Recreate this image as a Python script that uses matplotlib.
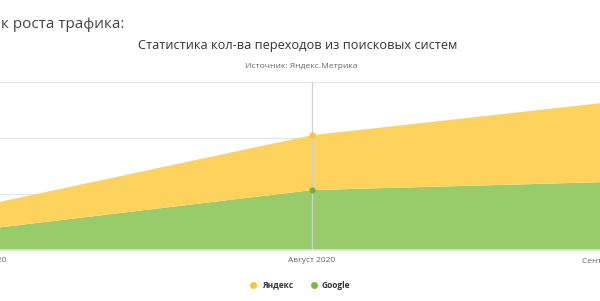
import matplotlib
matplotlib.use("Agg")
import matplotlib.pyplot as plt
import numpy as np

plt.rcParams['font.family'] = ['Open Sans', 'DejaVu Sans']

categories = ["Июль 2020", "Август 2020", "Сентябрь 2020"]
google = [37, 107, 123]
yandex = [43, 98, 147]
series_names = ["Яндекс", "Google"]

yandex_color = "#FDD35E"
google_color = "#98CB69"
yandex_marker = "#F5C440"
google_marker = "#72B53E"

W, H = 600, 301
fig = plt.figure(figsize=(W / 100, H / 100), dpi=100)
fig.patch.set_facecolor("white")

top_px, bottom_px = 82, 250
ax = fig.add_axes([0, 1 - bottom_px / H, 1, (bottom_px - top_px) / H])

x = np.arange(len(categories))
g = np.array(google, dtype=float)
yv = np.array(yandex, dtype=float)
total = g + yv

ax.fill_between(x, 0, g, color=google_color, lw=0, zorder=2)
ax.fill_between(x, g, total, color=yandex_color, lw=0, zorder=2)

# crosshair + hover markers at Август
ax.axvline(1, color="#d0d0d0", lw=0.9, zorder=3)
ax.plot([1], [total[1]], 'o', color=yandex_marker, ms=4.5, zorder=4, mec='none')
ax.plot([1], [g[1]], 'o', color=google_marker, ms=4.5, zorder=4, mec='none')

ax.set_yticks([0, 100, 200, 300])
ax.set_ylim(0, 300)
ax.yaxis.grid(True, color="#e6e6e6", lw=0.9, zorder=0)
ax.set_axisbelow(True)
ax.tick_params(axis='y', length=0, labelleft=False)
for s in ["top", "left", "right"]:
    ax.spines[s].set_visible(False)
ax.spines["bottom"].set_color("#d8e6cc")
ax.spines["bottom"].set_linewidth(1.2)
ax.spines["bottom"].set_zorder(5)

ax.set_xticks([])
# x mapping: Июль at -16 px, spacing 328 px (plot area wider than the crop)
x0_px, step_px = -16, 328
ax.set_xlim((0 - x0_px) / step_px, (W - x0_px) / step_px)

# category labels (edge labels justified inside the chart, as in the page)
label_shift_px = [22, 0, -58]
label_ha = ['right', 'center', 'left']
for i, cat in enumerate(categories):
    ax.annotate(cat, xy=(x[i], 0), xycoords=('data', 'axes fraction'),
                xytext=(label_shift_px[i] * 0.72, -5), textcoords='offset points',
                ha=label_ha[i], va='top', fontsize=6, color="#666666",
                annotation_clip=False)

fig.text(1 / W, 1 - 24 / H, "к роста трафика:", ha='left', va='center', fontsize=11, color="#444444")
fig.text(298 / W, 1 - 45 / H, "Статистика кол-ва переходов из поисковых систем", ha='center', va='center', fontsize=9.2, color="#333333")
fig.text(301 / W, 1 - 67 / H, "Источник: Яндекс.Метрика", ha='center', va='center', fontsize=6.1, color="#666666")

# legend
leg_y = 1 - 285 / H
fig.lines.append(plt.Line2D([253 / W], [leg_y], marker='o', ms=5, color="#F9C33C", mec='none', transform=fig.transFigure))
fig.text(262 / W, leg_y, series_names[0], ha='left', va='center', fontsize=6, fontweight='bold', color="#333333")
fig.lines.append(plt.Line2D([314 / W], [leg_y], marker='o', ms=5, color="#7AB93F", mec='none', transform=fig.transFigure))
fig.text(322 / W, leg_y, series_names[1], ha='left', va='center', fontsize=6, fontweight='bold', color="#333333")

fig.savefig("out.png", dpi=100, facecolor="white")
